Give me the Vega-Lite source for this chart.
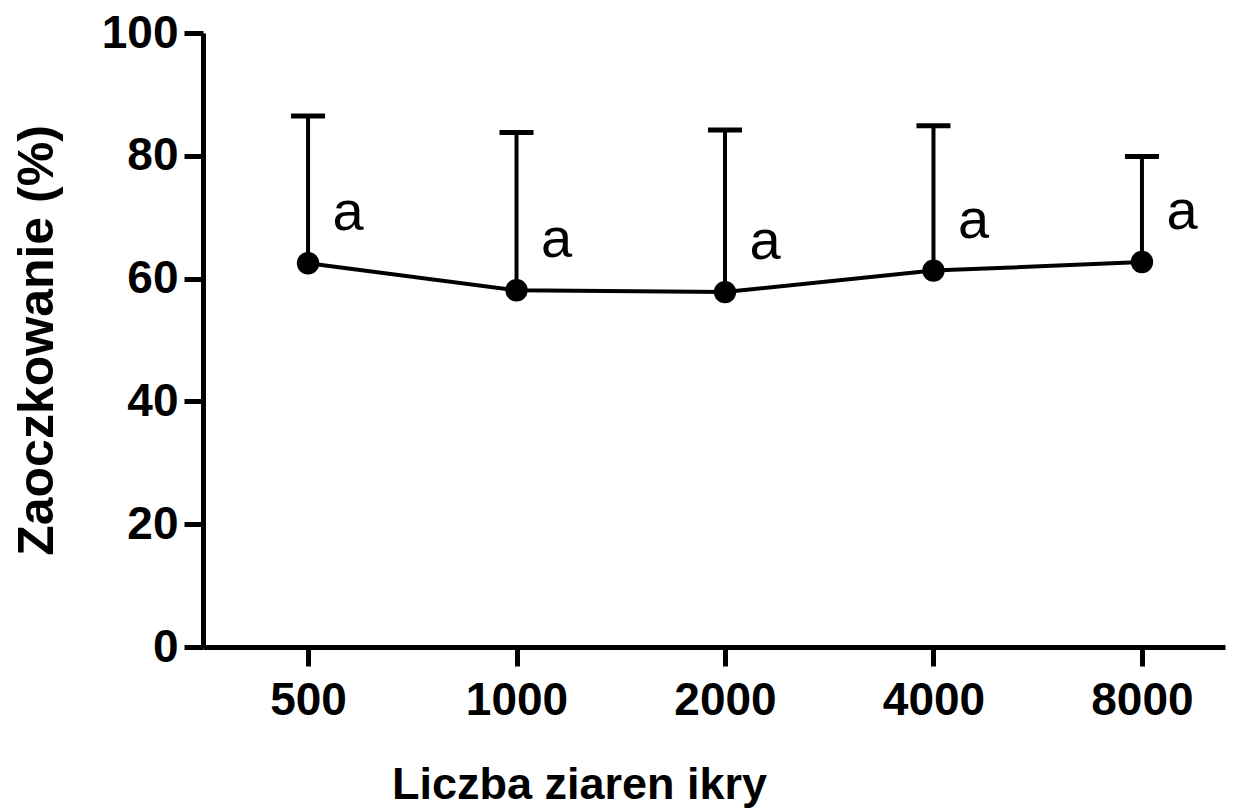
{
  "$schema": "https://vega.github.io/schema/vega-lite/v6.json",
  "width": 1022,
  "height": 614,
  "autosize": "none",
  "padding": {"left": 203, "top": 33, "right": 8, "bottom": 162},
  "background": "white",
  "config": {"view": {"stroke": null}},
  "data": {
    "values": [
      {"n": 500, "mean": 62.5, "upper": 86.5, "label": "a"},
      {"n": 1000, "mean": 58.1, "upper": 83.8, "label": "a"},
      {"n": 2000, "mean": 57.8, "upper": 84.2, "label": "a"},
      {"n": 4000, "mean": 61.3, "upper": 84.9, "label": "a"},
      {"n": 8000, "mean": 62.7, "upper": 79.9, "label": "a"}
    ]
  },
  "encoding": {
    "x": {
      "field": "n",
      "type": "quantitative",
      "scale": {"type": "log", "base": 2, "domain": [352.6, 10544], "nice": false},
      "axis": {
        "title": "Liczba ziaren ikry",
        "values": [500, 1000, 2000, 4000, 8000],
        "format": "d",
        "grid": false,
        "labelAngle": 0,
        "labelFont": "Liberation Sans",
        "labelFontWeight": "bold",
        "labelFontSize": 46,
        "labelColor": "black",
        "labelPadding": 12,
        "labelFlush": false,
        "labelOverlap": false,
        "tickColor": "black",
        "tickWidth": 5,
        "tickSize": 19,
        "domainColor": "black",
        "domainWidth": 5,
        "titleFont": "Liberation Sans",
        "titleFontWeight": "bold",
        "titleFontSize": 45,
        "titleColor": "black",
        "titleAnchor": null,
        "titleAlign": "center",
        "titleBaseline": "alphabetic",
        "titleX": 376,
        "titleY": 151
      }
    }
  },
  "layer": [
    {
      "mark": {"type": "rule", "color": "black", "strokeWidth": 4},
      "encoding": {
        "y": {
          "field": "mean",
          "type": "quantitative",
          "scale": {"domain": [0, 100], "nice": false},
          "axis": {
            "title": "Zaoczkowanie (%)",
            "values": [0, 20, 40, 60, 80, 100],
            "grid": false,
            "labelFont": "Liberation Sans",
            "labelFontWeight": "bold",
            "labelFontSize": 46,
            "labelColor": "black",
            "labelPadding": 6,
            "tickColor": "black",
            "tickWidth": 5,
            "tickSize": 19,
            "domainColor": "black",
            "domainWidth": 5,
            "titleFont": "Liberation Sans",
            "titleFontWeight": "bold",
            "titleFontSize": 50,
            "titleColor": "black",
            "titleAngle": -90,
            "titleAnchor": null,
            "titleAlign": "center",
            "titleBaseline": "middle",
            "titleX": -166,
            "titleY": 307
          }
        },
        "y2": {"field": "upper"}
      }
    },
    {
      "mark": {"type": "tick", "color": "black", "opacity": 1, "size": 34, "thickness": 5, "orient": "horizontal"},
      "encoding": {"y": {"field": "upper", "type": "quantitative"}}
    },
    {
      "mark": {"type": "line", "color": "black", "strokeWidth": 4},
      "encoding": {"y": {"field": "mean", "type": "quantitative"}}
    },
    {
      "mark": {"type": "point", "filled": true, "color": "black", "opacity": 1, "size": 500},
      "encoding": {"y": {"field": "mean", "type": "quantitative"}}
    },
    {
      "mark": {"type": "text", "font": "Liberation Sans", "fontSize": 56, "color": "black", "dx": 40, "dy": -50, "align": "center", "baseline": "middle"},
      "encoding": {"y": {"field": "mean", "type": "quantitative"}, "text": {"field": "label"}}
    }
  ]
}
